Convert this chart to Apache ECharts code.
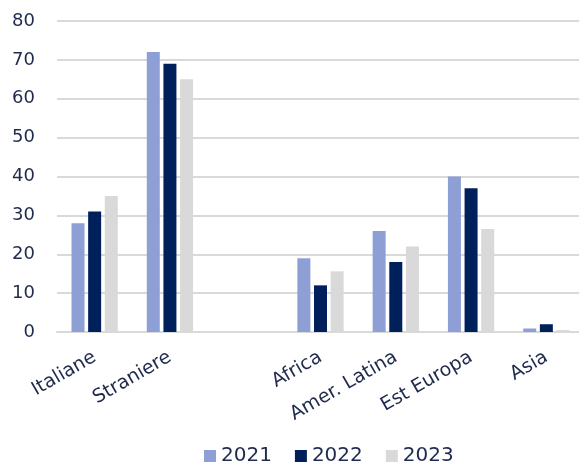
<!DOCTYPE html>
<html>
<head>
<meta charset="utf-8">
<script src="https://cdn.jsdelivr.net/npm/echarts@6/dist/echarts.min.js"></script>
<style>
html,body{margin:0;padding:0;background:#fff;}
#chart{width:579px;height:465px;}
</style>
</head>
<body>
<div id="chart"></div>
<script>
var categories = ["Italiane","Straniere","","Africa","Amer. Latina","Est Europa","Asia"];
var years = ["2021","2022","2023"];
var v2021 = [28, 72, null, 19, 26, 40, 0.9];
var v2022 = [31, 69, null, 12, 18, 37, 2];
var v2023 = [35, 65, null, 15.6, 22, 26.5, 0.5];
var yTicks = [0, 10, 20, 30, 40, 50, 60, 70, 80];

var textColor = '#1f2a4d';
var fontName = 'DejaVu Sans';

function makeSeries(name, values, color){
    return {
        name: name,
        type: 'bar',
        data: values,
        barWidth: 13,
        barGap: '28%',
        itemStyle: {color: color},
        emphasis: {disabled: true}
    };
}

var myChart = echarts.init(document.getElementById('chart'));
var option = {
    backgroundColor: '#ffffff',
    animation: false,
    grid: {
        left: 57,
        width: 527,
        top: 21,
        bottom: 133,
        containLabel: false,
        outerBoundsMode: 'none'
    },
    legend: {
        data: years,
        top: 446,
        left: 204,
        padding: 0,
        icon: 'rect',
        itemWidth: 12,
        itemHeight: 12,
        itemGap: 23,
        textStyle: {
            fontSize: 20,
            fontFamily: fontName,
            color: textColor
        }
    },
    xAxis: [{
        type: 'category',
        data: categories,
        axisTick: {show: false},
        axisLine: {
            show: true,
            lineStyle: {color: '#d9d9d9', width: 2}
        },
        axisLabel: {
            rotate: 30,
            interval: 0,
            margin: 24,
            fontSize: 19,
            fontFamily: fontName,
            color: textColor
        }
    }],
    yAxis: [{
        type: 'value',
        min: 0,
        max: 80,
        interval: 10,
        axisLine: {show: false},
        axisTick: {show: false},
        axisLabel: {
            margin: 22,
            fontSize: 18,
            fontFamily: fontName,
            color: textColor,
            formatter: function(v){ return yTicks.indexOf(v) >= 0 ? String(v) : ''; }
        },
        splitLine: {
            show: true,
            lineStyle: {color: '#d9d9d9', width: 2}
        }
    }],
    series: [
        makeSeries(years[0], v2021, '#8e9fd5'),
        makeSeries(years[1], v2022, '#00205b'),
        makeSeries(years[2], v2023, '#d9d9d9')
    ]
};
myChart.setOption(option);
</script>
</body>
</html>
